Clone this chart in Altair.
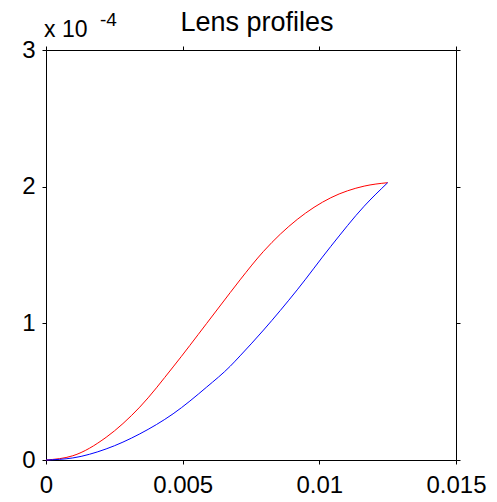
import altair as alt
import pandas as pd

# x positions (m) and profile heights (units of 1e-4)
x_vals = [0, 0.00098, 0.0022, 0.00343, 0.00465, 0.00588, 0.00674, 0.0071,
          0.00796, 0.00919, 0.01042, 0.01164, 0.0125]
red_vals = [0, 0.031, 0.166, 0.387, 0.681, 1.0, 1.225, 1.318,
            1.527, 1.76, 1.919, 2.004, 2.029]
blue_vals = [0, 0.015, 0.081, 0.191, 0.338, 0.534, 0.686, 0.762,
             0.951, 1.245, 1.563, 1.857, 2.029]
x_ticks = [0, 0.005, 0.01, 0.015]
x_labels = ["0", "0.005", "0.01", "0.015"]
y_ticks = [0, 1, 2, 3]
title_text = "Lens profiles"

FONT = "Liberation Sans"
FS = 24

rows = []
for i, x in enumerate(x_vals):
    rows.append({"x": x, "y": red_vals[i], "s": "red", "o": i})
    rows.append({"x": x, "y": blue_vals[i], "s": "blue", "o": i})
df = pd.DataFrame(rows)

xs = alt.Scale(domain=[0, 0.015], nice=False, zero=False)
ys = alt.Scale(domain=[0, 3], nice=False, zero=False)

x_label_expr = " : ".join(
    f"abs(datum.value - {v}) < 1e-9 ? '{l}'" for v, l in zip(x_ticks, x_labels)
) + " : ''"

def ax(orient, labels=True):
    kw = dict(orient=orient, values=x_ticks if orient in ("top", "bottom") else y_ticks,
              title=None, grid=False, labels=labels, tickSize=4, tickColor="black",
              domainColor="black", domainWidth=1, labelFont=FONT, labelFontSize=FS,
              labelColor="black", labelFlush=False, labelOverlap=False)
    if orient == "bottom":
        kw.update(labelPadding=9, labelExpr=x_label_expr)
    if orient == "left":
        kw.update(labelPadding=7, format="d")
    return alt.Axis(**kw)

lines = alt.Chart(df).mark_line(strokeWidth=1, interpolate="monotone").encode(
    x=alt.X("x:Q", scale=xs, axis=ax("bottom")),
    y=alt.Y("y:Q", scale=ys, axis=ax("left")),
    color=alt.Color("s:N", scale=alt.Scale(domain=["red", "blue"], range=["#ff0000", "#0000ff"]), legend=None),
    order="o:Q",
)

frame = alt.Chart(pd.DataFrame({"x": [0], "y": [0]})).mark_point(opacity=0).encode(
    x=alt.X("x:Q", scale=xs, axis=ax("top", labels=False)),
    y=alt.Y("y:Q", scale=ys, axis=ax("right", labels=False)),
)

title = alt.Chart(pd.DataFrame({"t": [title_text]})).mark_text(
    font=FONT, fontSize=27, align="center", baseline="alphabetic", color="black"
).encode(text="t:N", x=alt.value(211), y=alt.value(-19))

exp_base = alt.Chart(pd.DataFrame({"t": ["x 10"]})).mark_text(
    font=FONT, fontSize=23, align="left", baseline="alphabetic", color="black"
).encode(text="t:N", x=alt.value(-2), y=alt.value(-13))

exp_sup = alt.Chart(pd.DataFrame({"t": ["-4"]})).mark_text(
    font=FONT, fontSize=19, align="left", baseline="alphabetic", color="black"
).encode(text="t:N", x=alt.value(54), y=alt.value(-24))

chart = alt.layer(lines, frame, title, exp_base, exp_sup).resolve_axis(
    x="independent", y="independent"
).properties(
    width=410, height=410,
    autosize=alt.AutoSizeParams(type="none"),
    padding={"left": 38, "top": 42, "right": 33, "bottom": 38},
).configure_view(stroke=None).configure(background="white")

chart.save("out.html", embed_options={"renderer": "svg", "actions": False})
